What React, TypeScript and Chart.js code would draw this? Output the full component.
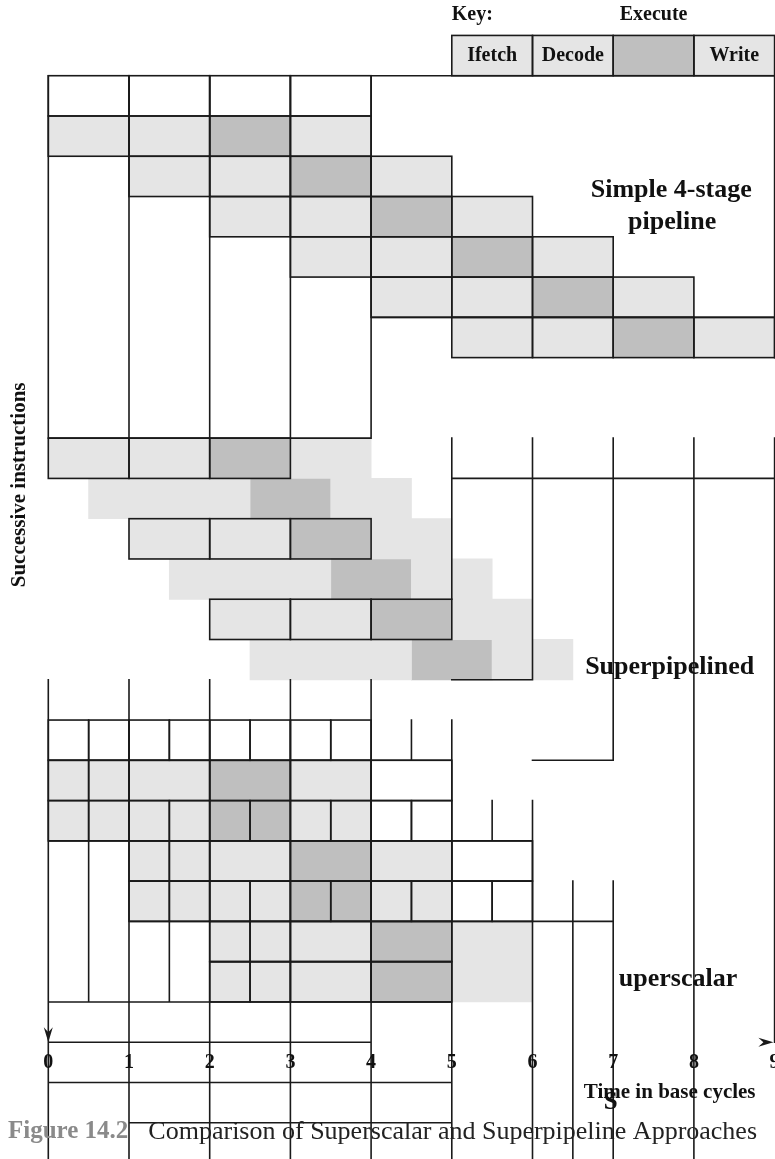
import React, { useEffect, useRef } from 'react';
import { Chart, registerables } from 'chart.js';

Chart.register(...registerables);

// ---------- frame (value ranges of the two scales) ----------
const CANVAS_W = 775;
const CANVAS_H = 1159;
const X_MIN = -0.5985;
const X_MAX = 9.005;
const Y_MIN = -1.88;
const Y_MAX = 26.9;
const ROW_PX = CANVAS_H / (Y_MAX - Y_MIN);

// ---------- data ----------
// time axis tick labels (base cycles)
const timeTicks = ['0', '1', '2', '3', '4', '5', '6', '7', '8', '9'];

// key: stage names and their cells [row, start, end]
const keyStages = ['Ifetch', 'Decode', 'Execute', 'Write'];
const keyCells: [number, number, number][] = [
  [-1, 5, 6],
  [-1, 6, 7],
  [-1, 7, 8],
  [-1, 8, 9],
];

// cells as [row, startCycle, endCycle]
// light grey stages with an outline (Ifetch / Decode / Write)
const lightOutlined: [number, number, number][] = [
  // key
  [-1, 5, 6], [-1, 6, 7], [-1, 8, 9],
  // simple 4-stage pipeline
  [1, 0, 1], [1, 1, 2], [1, 3, 4],
  [2, 1, 2], [2, 2, 3], [2, 4, 5],
  [3, 2, 3], [3, 3, 4], [3, 5, 6],
  [4, 3, 4], [4, 4, 5], [4, 6, 7],
  [5, 4, 5], [5, 5, 6], [5, 7, 8],
  [6, 5, 6], [6, 6, 7], [6, 8, 9],
  // superpipelined
  [9, 0, 1], [9, 1, 2],
  [11, 1, 2], [11, 2, 3],
  [13, 2, 3], [13, 3, 4],
  // superscalar
  [17, 0, 0.5], [17, 0.5, 1], [17, 1, 2], [17, 3, 4],
  [18, 0, 0.5], [18, 0.5, 1], [18, 1, 1.5], [18, 1.5, 2], [18, 3, 3.5], [18, 3.5, 4],
  [19, 1, 1.5], [19, 1.5, 2], [19, 2, 3], [19, 4, 5],
  [20, 1, 1.5], [20, 1.5, 2], [20, 2, 2.5], [20, 2.5, 3], [20, 4, 4.5], [20, 4.5, 5],
  [21, 2, 2.5], [21, 2.5, 3], [21, 3, 4],
  [22, 2, 2.5], [22, 2.5, 3], [22, 3, 4],
];

// dark grey Execute stages with an outline
const darkOutlined: [number, number, number][] = [
  [-1, 7, 8],
  [1, 2, 3], [2, 3, 4], [3, 4, 5], [4, 5, 6], [5, 6, 7], [6, 7, 8],
  [9, 2, 3], [11, 3, 4], [13, 4, 5],
  [17, 2, 3],
  [18, 2, 2.5], [18, 2.5, 3],
  [19, 3, 4],
  [20, 3, 3.5], [20, 3.5, 4],
  [21, 4, 5], [22, 4, 5],
];

// empty (white) outlined slots
const whiteOutlined: [number, number, number][] = [
  [0, 0, 1], [0, 1, 2], [0, 2, 3], [0, 3, 4],
  [16, 0, 0.5], [16, 0.5, 1], [16, 1, 1.5], [16, 1.5, 2],
  [16, 2, 2.5], [16, 2.5, 3], [16, 3, 3.5], [16, 3.5, 4],
  [17, 4, 5],
  [18, 4, 4.5], [18, 4.5, 5],
  [19, 5, 6],
  [20, 5, 5.5], [20, 5.5, 6],
];

// light grey stages without outline
const lightPlain: [number, number, number][] = [
  [9, 3, 4],
  [10, 0.5, 2.5], [10, 3.5, 4.5],
  [11, 4, 5],
  [12, 1.5, 3.5], [12, 4.5, 5.5],
  [13, 5, 6],
  [14, 2.5, 4.5], [14, 5.5, 6.5],
  [21, 5, 6], [22, 5, 6],
];

// dark grey stages without outline
const darkPlain: [number, number, number][] = [
  [10, 2.5, 3.5],
  [12, 3.5, 4.5],
  [14, 4.5, 5.5],
];

// remaining ruled lines [x1, y1, x2, y2] in (cycle, row) units
const ruledLines: [number, number, number, number][] = [
  // simple pipeline frame
  [0, 0, 0, 9], [1, 0, 1, 9], [2, 0, 2, 9], [3, 0, 3, 9], [4, 0, 4, 9],
  [4, 0, 9, 0], [9, 0, 9, 7], [4, 6, 9, 6], [0, 9, 4, 9],
  // superpipelined frame
  [5, 9, 5, 13], [6, 9, 6, 15], [7, 9, 7, 17], [8, 9, 8, Y_MAX], [9, 9, 9, 24],
  [5, 10, 9, 10], [5, 15, 6, 15],
  // superscalar frame
  [0, 15, 0, Y_MAX], [1, 15, 1, Y_MAX], [2, 15, 2, Y_MAX], [3, 15, 3, Y_MAX], [4, 15, 4, Y_MAX],
  [4.5, 16, 4.5, 17], [5, 16, 5, Y_MAX],
  [0, 17, 5, 17], [6, 17, 7, 17],
  [5.5, 18, 5.5, 19], [6, 18, 6, Y_MAX],
  [0, 19, 6, 19], [1, 20, 6, 20],
  [0.5, 19, 0.5, 23], [1.5, 21, 1.5, 23],
  [6.5, 20, 6.5, Y_MAX], [7, 20, 7, Y_MAX],
  [1, 21, 7, 21], [2, 22, 5, 22],
  [0, 23, 5, 23], [0, 24, 4, 24], [0, 25, 5, 25], [1, 26, 5, 26],
];

// ---------- annotation text ----------
const SERIF = '"Liberation Serif", "Times New Roman", serif';
type Label = { text: string; x: number; y: number; font: string; align?: CanvasTextAlign; color?: string; rotate?: boolean };
const textLabels: Label[] = [
  { text: 'Key:', x: 5.0, y: -1.5, font: `bold 20px ${SERIF}`, align: 'left' },
  { text: 'Simple 4-stage', x: 7.72, y: 2.84, font: `bold 26px ${SERIF}` },
  { text: 'pipeline', x: 7.73, y: 3.63, font: `bold 26px ${SERIF}` },
  { text: 'Superpipelined', x: 7.7, y: 14.68, font: `bold 26px ${SERIF}` },
  { text: 'uperscalar', x: 7.07, y: 22.43, font: `bold 26px ${SERIF}`, align: 'left' },
  { text: 'Time in base cycles', x: 7.7, y: 25.24, font: `bold 21px ${SERIF}` },
  { text: 'S', x: 6.97, y: 25.51, font: `bold 25px ${SERIF}` },
  { text: 'Successive instructions', x: -0.35, y: 10.16, font: `bold 21px ${SERIF}`, rotate: true },
  { text: 'Figure 14.2', x: -0.5, y: 26.23, font: `bold 25px ${SERIF}`, align: 'left', color: '#8a8a8a' },
  { text: 'Comparison of Superscalar and Superpipeline Approaches', x: 1.24, y: 26.23, font: `26px ${SERIF}`, align: 'left', color: '#222' },
];

const LIGHT = '#e5e5e5';
const DARK = '#bfbfbf';
const LINE = '#1a1a1a';

const toBars = (cells: [number, number, number][]) =>
  cells.map(([row, s, e]) => ({ y: row + 0.5, x: [s, e] }));

const drawingPlugin = {
  id: 'pipelineDrawing',
  afterDatasetsDraw(chart: any) {
    const { ctx, scales } = chart;
    const xs = scales.x;
    const ys = scales.y;
    ctx.save();
    ctx.strokeStyle = LINE;
    ctx.lineWidth = 1.6;
    ctx.lineCap = 'square';

    // ruled lines
    ctx.beginPath();
    ruledLines.forEach(([x1, y1, x2, y2]) => {
      ctx.moveTo(xs.getPixelForValue(x1), ys.getPixelForValue(y1));
      ctx.lineTo(xs.getPixelForValue(x2), ys.getPixelForValue(y2));
    });
    ctx.stroke();

    // outlines of the outlined bar datasets
    chart.data.datasets.forEach((ds: any, i: number) => {
      if (!ds.outlined) return;
      const meta = chart.getDatasetMeta(i);
      meta.data.forEach((el: any) => {
        const { x, y, base, height } = el.getProps(['x', 'y', 'base', 'height'], true);
        const l = Math.min(x, base);
        const r = Math.max(x, base);
        ctx.strokeRect(l, y - height / 2, r - l, height);
      });
    });

    // arrow heads on the axes
    ctx.fillStyle = LINE;
    const ax = xs.getPixelForValue(0);
    const ay = ys.getPixelForValue(24);
    ctx.beginPath();
    ctx.moveTo(ax, ay);
    ctx.lineTo(ax - 4.5, ay - 15);
    ctx.lineTo(ax, ay - 10);
    ctx.lineTo(ax + 4.5, ay - 15);
    ctx.closePath();
    ctx.fill();
    const bx = xs.getPixelForValue(8.985);
    ctx.beginPath();
    ctx.moveTo(bx, ay);
    ctx.lineTo(bx - 15, ay - 4.5);
    ctx.lineTo(bx - 10, ay);
    ctx.lineTo(bx - 15, ay + 4.5);
    ctx.closePath();
    ctx.fill();

    // key stage names
    ctx.fillStyle = '#111';
    ctx.textBaseline = 'middle';
    ctx.font = `bold 20px ${SERIF}`;
    keyStages.forEach((name, i) => {
      const [row, s, e] = keyCells[i];
      const cx = xs.getPixelForValue((s + e) / 2);
      const isExec = name === 'Execute';
      const cy = ys.getPixelForValue(isExec ? row - 0.5 : row + 0.5);
      ctx.textAlign = 'center';
      ctx.fillText(name, cx, cy);
    });

    // time axis numbers
    ctx.font = `bold 20px ${SERIF}`;
    timeTicks.forEach((t, i) => {
      ctx.textAlign = 'center';
      ctx.fillText(t, xs.getPixelForValue(i), ys.getPixelForValue(24.5));
    });

    // other text
    textLabels.forEach((lb) => {
      ctx.save();
      ctx.font = lb.font;
      ctx.fillStyle = lb.color || '#111';
      ctx.textAlign = lb.align || 'center';
      ctx.textBaseline = 'middle';
      const px = xs.getPixelForValue(lb.x);
      const py = ys.getPixelForValue(lb.y);
      if (lb.rotate) {
        ctx.translate(px, py);
        ctx.rotate(-Math.PI / 2);
        ctx.fillText(lb.text, 0, 0);
      } else {
        ctx.fillText(lb.text, px, py);
      }
      ctx.restore();
    });
    ctx.restore();
  },
};

export default function App() {
  const canvasRef = useRef<HTMLCanvasElement | null>(null);

  useEffect(() => {
    if (!canvasRef.current) return;
    const common = {
      grouped: false,
      barThickness: ROW_PX,
      borderWidth: 0,
      borderSkipped: false,
      inflateAmount: 0.4,
    };
    const chart = new Chart(canvasRef.current, {
      type: 'bar',
      data: {
        datasets: [
          { label: 'light', data: toBars(lightPlain), backgroundColor: LIGHT, ...common },
          { label: 'dark', data: toBars(darkPlain), backgroundColor: DARK, ...common },
          { label: 'white outlined', data: toBars(whiteOutlined), backgroundColor: '#ffffff', outlined: true, ...common },
          { label: 'light outlined', data: toBars(lightOutlined), backgroundColor: LIGHT, outlined: true, ...common },
          { label: 'dark outlined', data: toBars(darkOutlined), backgroundColor: DARK, outlined: true, ...common },
        ] as any,
      },
      options: {
        indexAxis: 'y',
        animation: false,
        responsive: false,
        maintainAspectRatio: false,
        events: [],
        layout: { padding: 0 },
        plugins: { legend: { display: false }, tooltip: { enabled: false } },
        scales: {
          x: { type: 'linear', min: X_MIN, max: X_MAX, display: false },
          y: { type: 'linear', min: Y_MIN, max: Y_MAX, reverse: true, display: false, offset: false },
        },
      } as any,
      plugins: [drawingPlugin],
    });
    return () => chart.destroy();
  }, []);

  return (
    <div style={{ position: 'absolute', left: 0, top: 0, width: CANVAS_W, height: CANVAS_H, background: '#fff' }}>
      <canvas ref={canvasRef} width={CANVAS_W} height={CANVAS_H} style={{ display: 'block' }} />
    </div>
  );
}
